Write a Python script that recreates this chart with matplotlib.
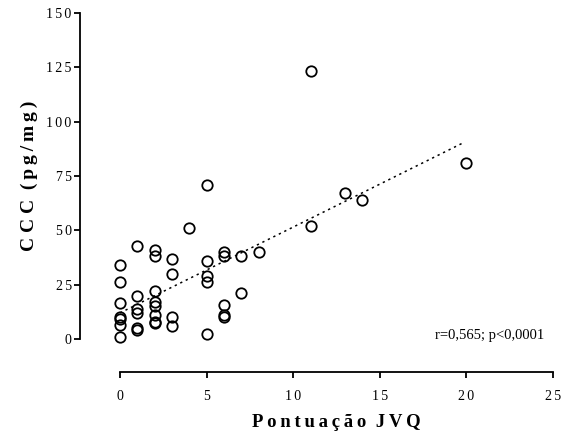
import matplotlib
matplotlib.use("Agg")
import matplotlib.pyplot as plt
import numpy as np

# JVQ score -> CCC values
groups = {
    0: [34, 26, 16.5, 10, 9, 6.5, 1],
    1: [43, 20, 14, 12, 5, 4],
    2: [41, 38, 22, 17, 15, 11, 8, 7.5],
    3: [37, 30, 10, 6],
    4: [51],
    5: [71, 36, 29, 26, 2.5],
    6: [40, 38, 15.5, 11, 10],
    7: [38, 21],
    8: [40],
    11: [123.5, 52],
    13: [67],
    14: [64],
    20: [81],
}
jvq = np.array([k for k, v in groups.items() for _ in v], dtype=float)
ccc = np.array([y for v in groups.values() for y in v], dtype=float)

fit_intercept = 12.0
fit_slope = 3.95
fit_range = [0, 19.8]

x_ticks = [0, 5, 10, 15, 20, 25]
y_ticks = [0, 25, 50, 75, 100, 125, 150]
stat_text = "r=0,565; p<0,0001"

SP = "\u2009"
TICK_SP = "\u200a\u200a"
def spaced(s, sep=SP):
    return sep.join(s)

plt.rcParams['font.family'] = ['Liberation Serif', 'DejaVu Serif']

fig = plt.figure(figsize=(5.65, 4.48), dpi=100)
ax = fig.add_axes([120/565, (448-339)/448, 433/565, 326/448])

ax.plot(jvq, ccc, 'o', ms=7.5, mfc='none', mec='black', mew=1.3, clip_on=False)

fx = np.array(fit_range, dtype=float)
ax.plot(fx, fit_intercept + fit_slope*fx, color='black', lw=1.1,
        linestyle=(0, (1.5, 2.5)), clip_on=False)

ax.set_xlim(0, 25)
ax.set_ylim(0, 150)
ax.set_xticks(x_ticks)
ax.set_yticks(y_ticks)
ax.set_xticklabels([spaced(str(t), TICK_SP) for t in x_ticks], fontsize=13.5)
ax.set_yticklabels([spaced(str(t), TICK_SP) for t in y_ticks], fontsize=13.5)

for s in ['top', 'right']:
    ax.spines[s].set_visible(False)
ax.spines['left'].set_position(('outward', 28.8))
ax.spines['bottom'].set_position(('outward', 23.8))
for s in ['left', 'bottom']:
    ax.spines[s].set_linewidth(1.3)
ax.tick_params(width=1.3, length=4, pad=2)
ax.tick_params(axis='x', pad=9)

ax.set_xlabel(spaced("Pontuação") + "  " + spaced("JVQ"), fontsize=13.5,
              fontweight='bold', labelpad=8)
ax.set_ylabel(spaced("CCC", " ") + "  " + spaced("(pg/mg)"), fontsize=14,
              fontweight='bold', labelpad=6)

ax.text(0.98, 0.012, stat_text, transform=ax.transAxes,
        ha='right', va='center', fontsize=10.5)

fig.savefig("out.png", dpi=100)
